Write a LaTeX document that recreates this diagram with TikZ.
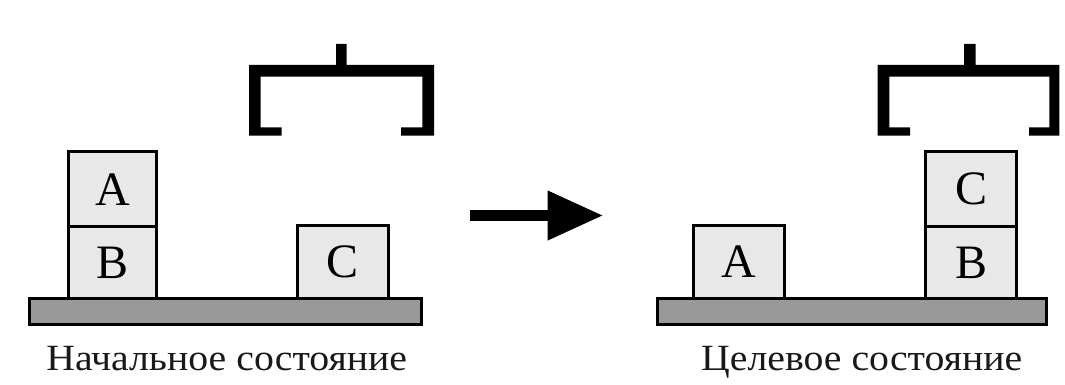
\documentclass[tikz,border=0pt]{standalone}
\usepackage{fontspec}
\setmainfont{Liberation Serif}
\usetikzlibrary{arrows.meta}
\begin{document}
\begin{tikzpicture}[x=1pt,y=-1pt,
  block/.style={draw=black, line width=3pt, fill=black!9, minimum width=88pt, inner sep=0pt,
    font=\fontsize{48}{48}\selectfont},
  table/.style={draw=black, line width=3pt, fill=black!40},
  gripper/.style={fill=black},
  caption/.style={anchor=base, inner sep=0pt, xscale=1.075, font=\fontsize{37}{37}\selectfont, text=black!90}]
\useasboundingbox (0,0) rectangle (1065,385);
% ---------- left (initial) ----------
\draw[table] (29.3,298.3) rectangle (421.7,324.3);
\node[block, minimum width=88.4pt, minimum height=75pt] (LA) at (112.5,189.2) {A};
\node[block, minimum width=88.4pt, minimum height=71.6pt] (LB) at (112.5,262.5) {B};
\node[block, minimum width=91pt, minimum height=72.6pt] (LC) at (342.8,262) {C};
\fill[gripper] (281.7,135.7) -- (249,135.7) -- (249,65) -- (336,65) -- (336,44) -- (346.7,44)
  -- (346.7,65) -- (434,65) -- (434,135.7) -- (401,135.7) -- (401,127.3) -- (422.3,127.3)
  -- (422.3,76.7) -- (260.7,76.7) -- (260.7,127.3) -- (281.7,127.3) -- cycle;
\node[caption] (Lcap) at (226.7,370) {Начальное состояние};
% ---------- arrow ----------
\coordinate (as) at (470,215.5);
\coordinate (ae) at (603.5,215.5);
\draw[line width=11.7pt, -{Triangle[length=56pt,width=46.6pt]}] (as) -- (ae);
% ---------- right (goal) ----------
\draw[table] (657.3,298.3) rectangle (1046.7,324.3);
\node[block, minimum width=91pt, minimum height=72.6pt] (RA) at (738.8,262) {A};
\node[block, minimum width=91pt, minimum height=75pt] (RC) at (971.2,189.2) {C};
\node[block, minimum width=91pt, minimum height=71.6pt] (RB) at (971.2,262.5) {B};
\fill[gripper] (910,135.7) -- (877.7,135.7) -- (877.7,65) -- (964,65) -- (964,44) -- (975.7,44)
  -- (975.7,65) -- (1059.3,65) -- (1059.3,135.7) -- (1029,135.7) -- (1029,127.3) -- (1049.3,127.3)
  -- (1049.3,76.7) -- (889.3,76.7) -- (889.3,127.3) -- (910,127.3) -- cycle;
\node[caption] (Rcap) at (861.7,370) {Целевое состояние};
\end{tikzpicture}
\end{document}
